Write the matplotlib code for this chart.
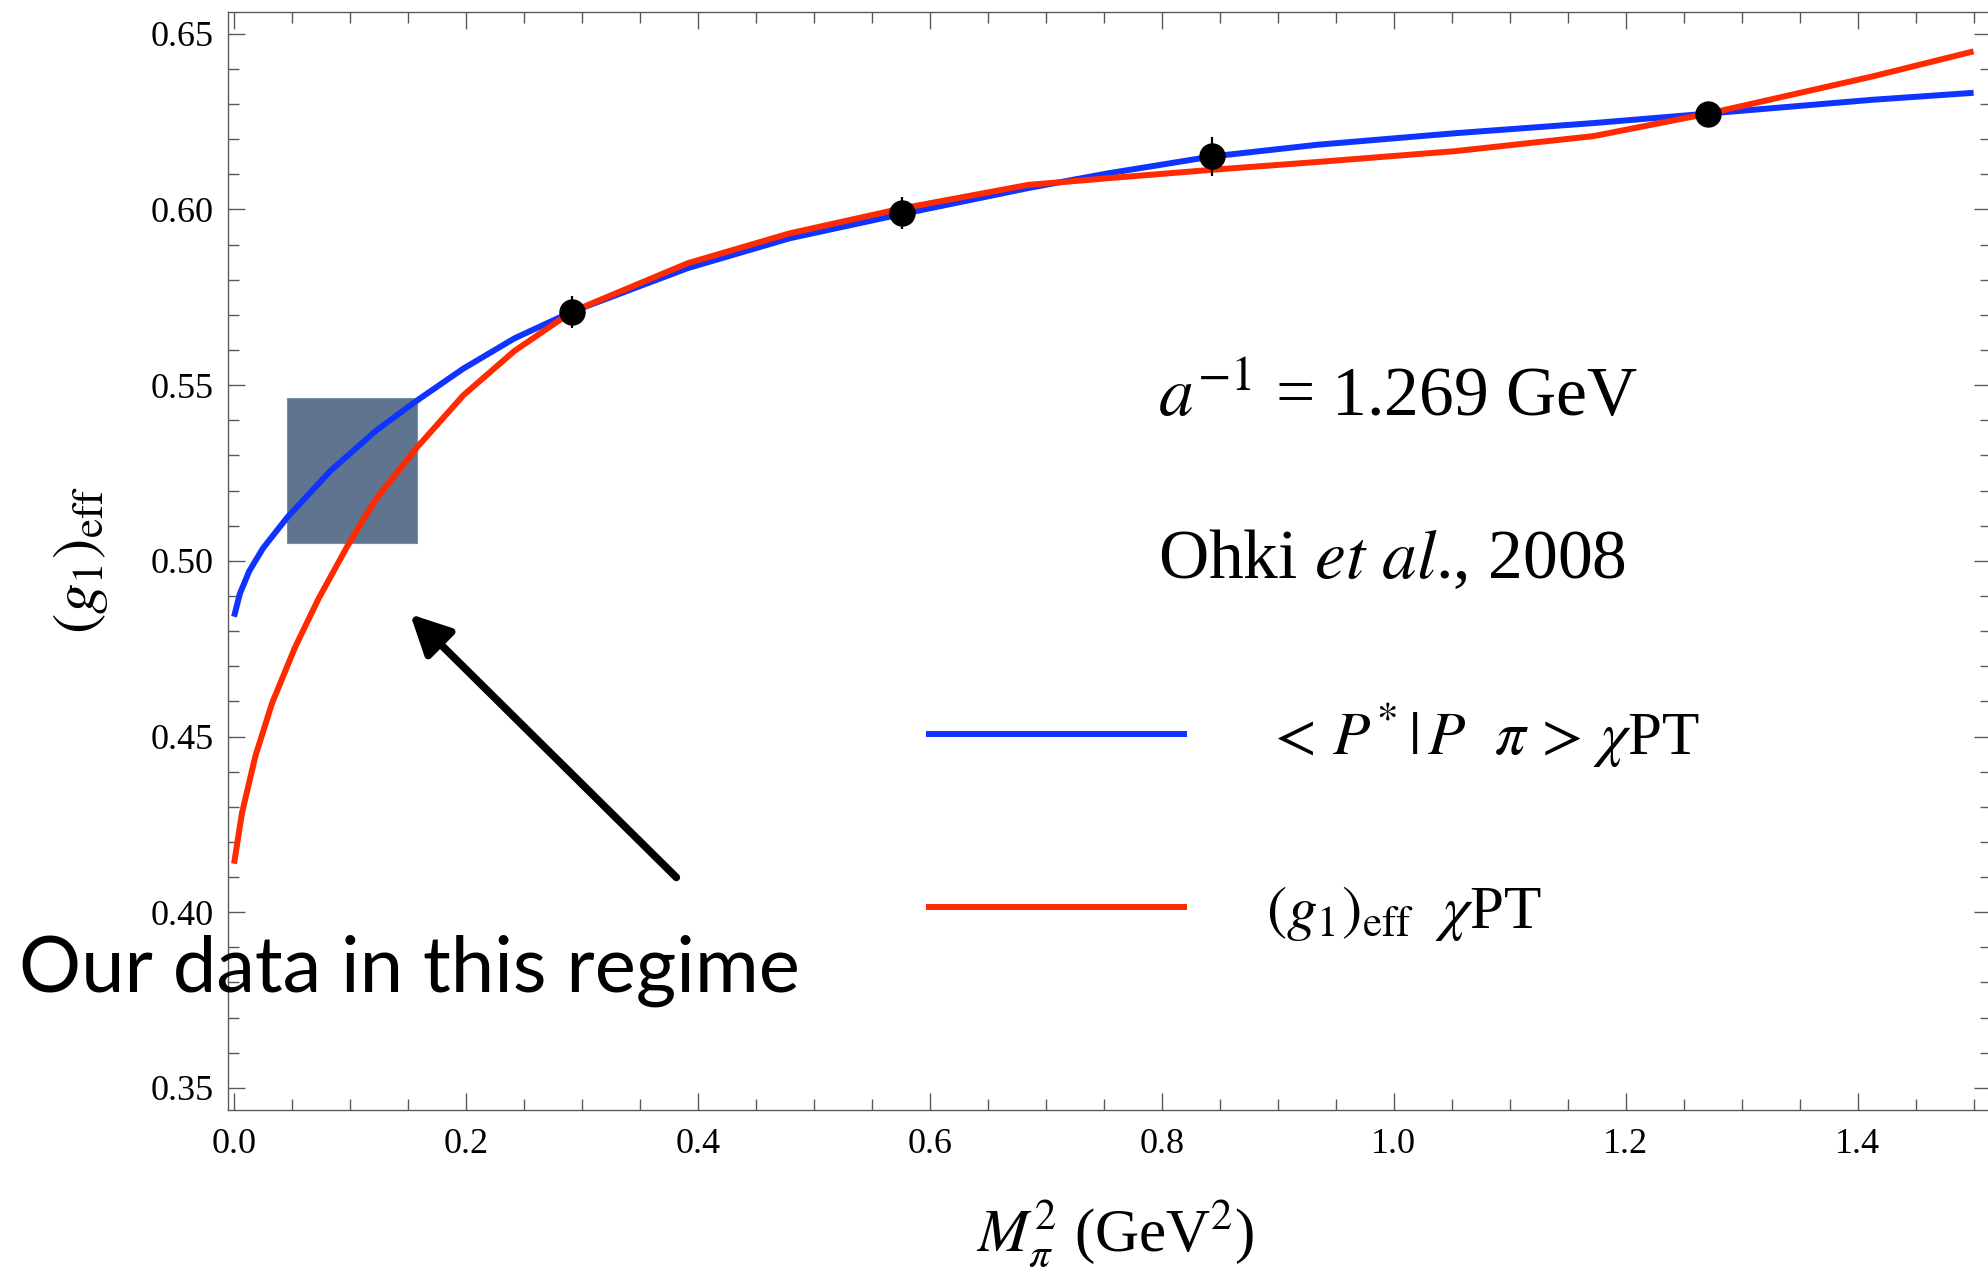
import numpy as np
import matplotlib
matplotlib.use("Agg")
import matplotlib.pyplot as plt
from matplotlib.ticker import MultipleLocator, FormatStrFormatter
from matplotlib.patches import Rectangle, FancyArrowPatch

plt.rcParams['font.family'] = ['Liberation Serif', 'DejaVu Serif']
plt.rcParams['mathtext.fontset'] = 'stix'

# lattice points (Ohki et al.)
pts_x = [0.2914, 0.5760, 0.8437, 1.2714]
pts_y = [0.5709, 0.5990, 0.6151, 0.6273]
pts_err = [0.0045, 0.0045, 0.0055, 0.0030]

# <P*|P pi> chiPT curve
blue_x = [0.0, 0.005, 0.013, 0.025, 0.046, 0.0834, 0.123, 0.1581, 0.1977, 0.2417,
          0.2914, 0.3912, 0.4791, 0.576, 0.6849, 0.7539, 0.8437, 0.9336, 1.053,
          1.1727, 1.2714, 1.412, 1.5]
blue_y = [0.4841, 0.4906, 0.4970, 0.5036, 0.5124, 0.5257, 0.5372, 0.5457, 0.5547, 0.5633,
          0.5709, 0.5833, 0.5918, 0.5987, 0.6061, 0.6103, 0.6151, 0.6184, 0.6217,
          0.6246, 0.6273, 0.6312, 0.6332]

# (g1)_eff chiPT curve
red_x = [0.0, 0.0069, 0.0184, 0.0328, 0.0529, 0.073, 0.0988, 0.1216, 0.1581,
         0.1977, 0.2417, 0.2914, 0.3912, 0.4791, 0.576, 0.6849, 0.7539, 0.8437,
         0.9336, 1.053, 1.1727, 1.2714, 1.412, 1.5]
red_y = [0.4138, 0.4283, 0.4444, 0.4595, 0.4756, 0.4893, 0.5048, 0.5172, 0.5324,
         0.5471, 0.5597, 0.5709, 0.5847, 0.5932, 0.6003, 0.6070, 0.6089, 0.6113,
         0.6135, 0.6166, 0.6209, 0.6273, 0.6378, 0.6450]

# "our data" box and arrow
box_x = (0.046, 0.158)
box_y = (0.5052, 0.5462)
arrow_tail = (0.3814, 0.4099)
arrow_head = (0.1519, 0.4848)

blue = '#1034ff'
red = '#ff2a00'
gray = '#5a5a5a'

W, H = 1988, 1268
fig = plt.figure(figsize=(W / 100, H / 100), dpi=100)
# axes frame in pixels: left 228, right ~1991 (cut off), top 12, bottom 1110
ax = fig.add_axes([228 / W, (H - 1110) / H, (1991 - 228) / W, 1098 / H])
ax.set_xlim(-0.0052, 1.515)
ax.set_ylim(0.3437, 0.6562)

for s in ax.spines.values():
    s.set_color(gray)
    s.set_linewidth(1.0)

ax.xaxis.set_major_locator(MultipleLocator(0.2))
ax.xaxis.set_minor_locator(MultipleLocator(0.05))
ax.yaxis.set_major_locator(MultipleLocator(0.05))
ax.yaxis.set_minor_locator(MultipleLocator(0.01))
ax.xaxis.set_major_formatter(FormatStrFormatter('%.1f'))
ax.yaxis.set_major_formatter(FormatStrFormatter('%.2f'))
ax.tick_params(which='both', direction='in', top=True, right=True,
               color=gray, width=1.0, labelsize=26)
ax.tick_params(which='major', length=12.5)
ax.tick_params(which='minor', length=7.7)
ax.tick_params(axis='x', which='major', pad=13)
ax.tick_params(axis='y', which='major', pad=10)

ax.add_patch(Rectangle((box_x[0], box_y[0]), box_x[1] - box_x[0], box_y[1] - box_y[0],
                       facecolor='#5f758f', edgecolor='#7a8da3', lw=0.8, zorder=1))

ax.plot(blue_x, blue_y, color=blue, lw=4.3, zorder=2, solid_capstyle='butt',
        solid_joinstyle='round', label=r'$<\,P^{*}\,|\,P\ \ \pi\,>\,\chi$PT')
ax.plot(red_x, red_y, color=red, lw=4.3, zorder=3, solid_capstyle='butt',
        solid_joinstyle='round', label=r'$(g_1)_{\rm eff}\ \ \chi$PT')
ax.errorbar(pts_x, pts_y, yerr=pts_err, fmt='o', color='black', ms=18,
            elinewidth=1.6, capsize=0, zorder=4)

ax.add_patch(FancyArrowPatch(arrow_tail, arrow_head,
                             arrowstyle='-|>,head_length=24,head_width=12',
                             mutation_scale=1, lw=5.5, color='black',
                             shrinkA=0, shrinkB=0, zorder=5, clip_on=False))

ax.text(0.5275, 0.632, r'$a^{-1}$ = 1.269 GeV', transform=ax.transAxes,
        fontsize=50, va='baseline', ha='left')
ax.text(0.5275, 0.4845, r'Ohki $\mathit{et\ al}$., 2008', transform=ax.transAxes,
        fontsize=50, va='baseline', ha='left')
ax.text(-0.1185, 0.1075, 'Our data in this regime', transform=ax.transAxes,
        fontsize=56, family='Lato', va='baseline', ha='left', clip_on=False, zorder=6)

leg = ax.legend(loc='upper left', bbox_to_anchor=(0.3645, 0.4217), frameon=False,
                fontsize=44, handlelength=4.27, handletextpad=1.3, labelspacing=1.87)

ax.set_xlabel(r'$M_{\pi}^{2}$ (GeV$^{2}$)', fontsize=44, va='baseline')
ax.xaxis.set_label_coords(0.503, -0.128)
ax.set_ylabel(r'$(g_1)_{\rm eff}$', fontsize=44)
ax.yaxis.set_label_coords(-0.067, 0.501)

fig.savefig('out.png', dpi=100)
